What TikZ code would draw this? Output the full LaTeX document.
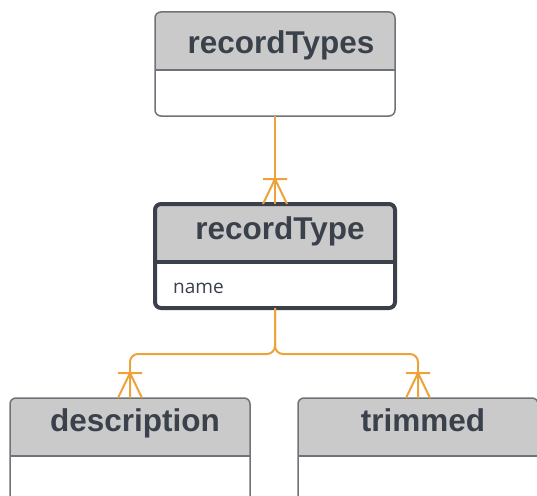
\documentclass[tikz,border=0pt]{standalone}
\usepackage{fontspec}
\setmainfont{Liberation Sans}
\newfontfamily\attrfont{Open Sans}
\definecolor{hdrgray}{HTML}{CACACA}
\definecolor{boxgray}{HTML}{6E737A}
\definecolor{inkgray}{HTML}{3A414B}
\definecolor{relorange}{HTML}{EDA23A}
\tikzset{crowfoot/.pic={
   \draw[rel] (-12,0) -- (0,-25) -- (12,0) (-12,-25) -- (12,-25);
}}

\begin{document}
\begin{tikzpicture}[x=1pt,y=-1pt,
   boxline/.style={draw=boxgray,line width=1.5pt},
   boldline/.style={draw=inkgray,line width=4pt},
   entity/.style={rectangle,fill=white,minimum width=240pt,minimum height=104pt,inner sep=0pt,outer sep=0pt,rounded corners=6pt,#1,
      path picture={\fill[hdrgray,sharp corners] (path picture bounding box.north west) rectangle ([yshift=-58pt]path picture bounding box.north east);
         \draw[#1,sharp corners] ([yshift=-58pt]path picture bounding box.north west) -- ([yshift=-58pt]path picture bounding box.north east);}},
   title/.style={anchor=base,text=inkgray,font=\fontsize{31.5}{36}\selectfont\bfseries},
   attr/.style={anchor=base west,inner xsep=0pt,text=inkgray,font=\attrfont\fontsize{19}{23}\selectfont},
   rel/.style={draw=relorange,line width=2pt}]
\useasboundingbox (0,0) rectangle (537,495);
\node[entity=boxline] (types) at (275,64) {};
\node[entity=boldline] (type) at (275,256) {};
\node[entity=boxline] (desc) at (130,450) {};
\node[entity=boxline] (trim) at (418,450) {};
\node[title] (typesTitle) at ([xshift=6pt,yshift=-41pt]types.north) {recordTypes};
\node[title] (typeTitle) at ([xshift=5pt,yshift=-35pt]type.north) {recordType};
\node[title] (descTitle) at ([xshift=5pt,yshift=-33pt]desc.north) {description};
\node[title] (trimTitle) at ([xshift=5pt,yshift=-33pt]trim.north) {trimmed};
\node[attr] (typeName) at ([xshift=18pt,yshift=-89pt]type.north west) {name};
% relations
\draw[rel] (types.south) -- (type.north);
\draw[rel,rounded corners=8pt] (type.south) -- ++(0,46) -| (desc.north);
\draw[rel,rounded corners=8pt] (type.south) -- ++(0,46) -| (trim.north);
\foreach \e in {type,desc,trim}
   \pic at (\e.north) {crowfoot};
\end{tikzpicture}
\end{document}
